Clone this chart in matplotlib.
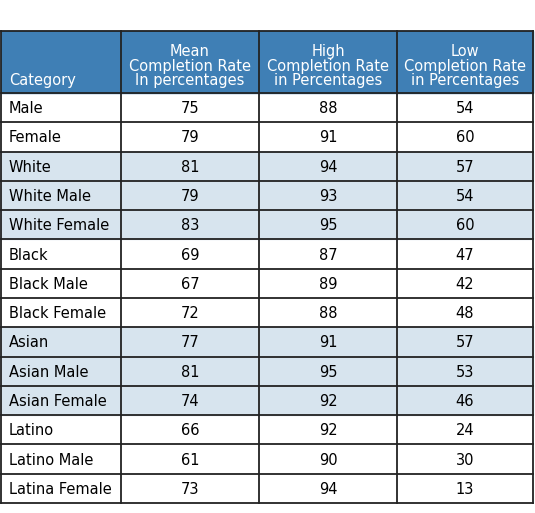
import matplotlib
matplotlib.use("Agg")
import matplotlib.pyplot as plt
from matplotlib.patches import Rectangle

categories = ["Male", "Female", "White", "White Male", "White Female", "Black", "Black Male",
              "Black Female", "Asian", "Asian Male", "Asian Female", "Latino", "Latino Male", "Latina Female"]
mean_rate = [75, 79, 81, 79, 83, 69, 67, 72, 77, 81, 74, 66, 61, 73]
high_rate = [88, 91, 94, 93, 95, 87, 89, 88, 91, 95, 92, 92, 90, 94]
low_rate = [54, 60, 57, 54, 60, 47, 42, 48, 57, 53, 46, 24, 30, 13]
headers = ["Category", "Mean\nCompletion Rate\nIn percentages", "High\nCompletion Rate\nin Percentages",
           "Low\nCompletion Rate\nin Percentages"]
shaded = {"White", "White Male", "White Female", "Asian", "Asian Male", "Asian Female"}

W, H = 535, 513
fig = plt.figure(figsize=(W / 100, H / 100), dpi=100)
ax = fig.add_axes([0, 0, 1, 1])
ax.set_xlim(0, W)
ax.set_ylim(H, 0)
ax.axis("off")

cols = [1, 121, 259, 397, 533]
top, hdr_bot, bottom = 31, 93, 503
n = len(categories)
rh = (bottom - hdr_bot) / n
hdr_color = "#3f7fb5"
shade = "#d7e4ee"
font = "DejaVu Sans"

ax.add_patch(Rectangle((cols[0], top), cols[-1] - cols[0], hdr_bot - top, color=hdr_color, zorder=0))
for i, c in enumerate(categories):
    y0 = hdr_bot + i * rh
    if c in shaded:
        ax.add_patch(Rectangle((cols[0], y0), cols[-1] - cols[0], rh, color=shade, zorder=0))
    yc = y0 + rh / 2 + 1
    ax.text(cols[0] + 8, yc, c, ha="left", va="center", fontsize=10.5, color="black")
    for j, v in enumerate([mean_rate[i], high_rate[i], low_rate[i]]):
        ax.text((cols[j + 1] + cols[j + 2]) / 2, yc, str(v), ha="center", va="center", fontsize=10.5)

ax.text(cols[0] + 8, hdr_bot - 5, headers[0], ha="left", va="bottom", fontsize=10.5, color="white")
for j in range(1, 4):
    ax.text((cols[j] + cols[j + 1]) / 2, hdr_bot - 5, headers[j], ha="center", va="bottom",
            fontsize=10.5, color="white", linespacing=0.95)

lw = 1.3
for x in cols:
    ax.plot([x, x], [top, bottom], color="#222222", lw=lw)
ax.plot([cols[0], cols[-1]], [top, top], color="#222222", lw=lw)
for i in range(n + 1):
    y = hdr_bot + i * rh
    ax.plot([cols[0], cols[-1]], [y, y], color="#222222", lw=lw)

fig.savefig("out.png", dpi=100)
